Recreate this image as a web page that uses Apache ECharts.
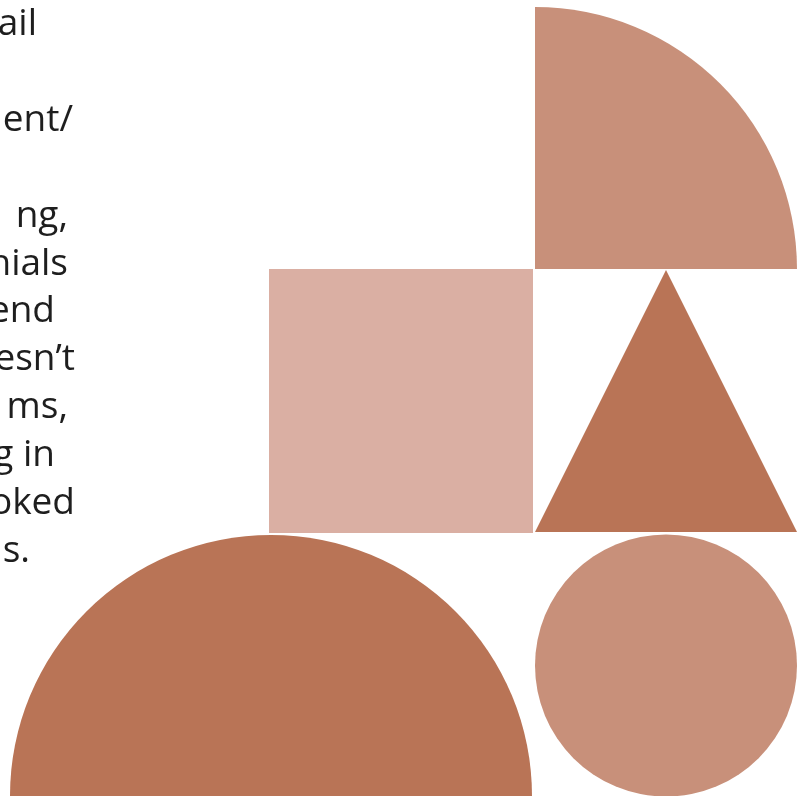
<!DOCTYPE html>
<html lang="en">
<head>
    <meta charset="UTF-8">
    <script src="https://cdn.jsdelivr.net/npm/echarts@6/dist/echarts.min.js"></script>
    <title>Shapes</title>
    <style>
        html, body { margin: 0; padding: 0; background: #fff; }
        #main { width: 808px; height: 796px; }
    </style>
</head>
<body>
<div id="main"></div>
<script type="text/javascript">
    // shapes, in page units (x right, y down)
    var shapeKinds = ['quarter', 'square', 'triangle', 'half', 'circle'];
    var shapeCx = [535, 401, 666, 271, 666];
    var shapeCy = [269, 401, 401, 796, 665.5];
    var shapeR = [262, 132, 131, 261, 131];

    // text fragments cut off at the left edge
    var textLines = ['ail', 'ent/', 'ng,', 'nials', 'end', 'esn\u2019t', 'ms,', 'g in', 'oked', 'ns.'];
    var textRow = [0, 2, 4, 5, 6, 7, 8, 9, 10, 11];
    var textEnd = [37, 73, 68, 68, 55, 75, 68, 55, 75, 30];

    var shapeColors = {
        quarter: '#c8907a',
        square: '#daafa3',
        triangle: '#b97456',
        half: '#b97456',
        circle: '#c8907a'
    };

    var myChart = echarts.init(document.getElementById('main'));

    function renderShape(params, api) {
        var kind = shapeKinds[api.value(0)];
        var c = api.coord([api.value(1), api.value(2)]);
        var r = api.size([api.value(3), api.value(3)])[0];
        var style = { fill: shapeColors[kind] };
        if (kind === 'quarter') {
            return { type: 'sector', shape: { cx: c[0], cy: c[1], r0: 0, r: r, startAngle: -Math.PI / 2, endAngle: 0, clockwise: true }, style: style };
        }
        if (kind === 'half') {
            return { type: 'sector', shape: { cx: c[0], cy: c[1], r0: 0, r: r, startAngle: Math.PI, endAngle: Math.PI * 2, clockwise: true }, style: style };
        }
        if (kind === 'circle') {
            return { type: 'circle', shape: { cx: c[0], cy: c[1], r: r }, style: style };
        }
        if (kind === 'square') {
            return { type: 'rect', shape: { x: c[0] - r, y: c[1] - r, width: 2 * r, height: 2 * r }, style: style };
        }
        // triangle
        return {
            type: 'polygon',
            shape: { points: [[c[0], c[1] - r], [c[0] + r, c[1] + r], [c[0] - r, c[1] + r]] },
            style: style
        };
    }

    function renderText(params, api) {
        var i = params.dataIndex;
        var p = api.coord([api.value(0), api.value(1)]);
        return {
            type: 'text',
            style: {
                x: p[0], y: p[1],
                text: textLines[i],
                fill: '#1e1e1e',
                font: '37px "Open Sans", sans-serif',
                textAlign: 'right',
                textVerticalAlign: 'top'
            }
        };
    }

    var shapeData = shapeKinds.map(function (k, i) {
        return [i, shapeCx[i], shapeCy[i], shapeR[i]];
    });
    var textData = textLines.map(function (t, i) {
        return [textEnd[i], 6 + textRow[i] * 47.9];
    });

    var option = {
        animation: false,
        grid: { left: 0, right: 0, top: 0, bottom: 0 },
        xAxis: { type: 'value', min: 0, max: 808, show: false },
        yAxis: { type: 'value', min: 0, max: 796, inverse: true, show: false },
        series: [
            { type: 'custom', renderItem: renderShape, data: shapeData, clip: true },
            { type: 'custom', renderItem: renderText, data: textData }
        ]
    };
    myChart.setOption(option);
</script>
</body>
</html>
